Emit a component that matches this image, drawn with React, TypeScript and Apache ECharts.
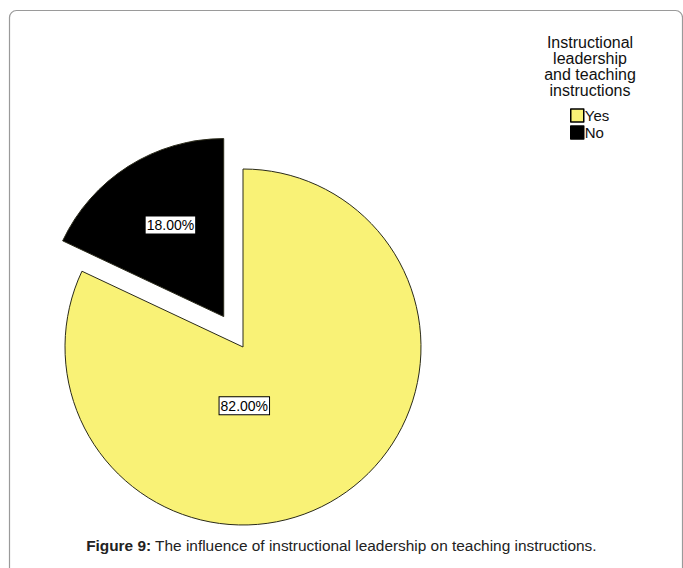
import React, { useEffect, useRef } from "react";
import * as echarts from "echarts";

const categories = ["Yes", "No"];
const values = [82, 18];
const colors = ["#F9F276", "#000000"];
const legendTitle = "Instructional\nleadership\nand teaching\ninstructions";
const captionBold = "Figure 9:";
const captionText = " The influence of instructional leadership on teaching instructions.";

export default function App() {
  const ref = useRef<HTMLDivElement>(null);
  useEffect(() => {
    document.body.style.margin = "0";
    const chart = echarts.init(ref.current!, null, { renderer: "svg" });
    const font = "Arial, 'Liberation Sans', sans-serif";
    chart.setOption({
      animation: false,
      backgroundColor: "#ffffff",
      graphic: [
        {
          type: "rect",
          shape: { x: 9.5, y: 10.5, width: 673, height: 620, r: 7 },
          style: { fill: "none", stroke: "#9a9a9a", lineWidth: 1.2 },
          silent: true,
        },
        {
          type: "text",
          left: "center",
          top: 538,
          style: {
            text: `{b|${captionBold}}{n|${captionText}}`,
            rich: {
              b: { fontFamily: font, fontSize: 15.4, fontWeight: "bold", fill: "#222" },
              n: { fontFamily: font, fontSize: 15.4, fill: "#222" },
            },
          },
        },
      ],
      title: {
        text: legendTitle,
        left: 590,
        top: 34,
        padding: 0,
        textAlign: "center",
        textStyle: {
          fontFamily: font,
          fontSize: 16,
          fontWeight: "normal",
          color: "#111",
          lineHeight: 16,
        },
      },
      legend: {
        orient: "vertical",
        left: 570,
        top: 108,
        padding: 0,
        itemWidth: 13,
        itemHeight: 13,
        itemGap: 2,
        icon: "rect",
        data: categories,
        textStyle: {
          fontFamily: font,
          fontSize: 15,
          color: "#111",
          lineHeight: 13,
          padding: [0, 0, 0, -4],
        },
        itemStyle: { borderColor: "#000", borderWidth: 1.5 },
      },
      series: [
        {
          type: "pie",
          center: [243, 347],
          radius: 178,
          startAngle: 90,
          clockwise: true,
          selectedMode: "single",
          selectedOffset: 36,
          itemStyle: { borderColor: "#2a2a1a", borderWidth: 1 },
          label: {
            show: true,
            position: "inside",
            formatter: (p: any) => p.value.toFixed(2) + "%",
            fontFamily: font,
            fontSize: 14,
            color: "#000",
            backgroundColor: "#fff",
            borderColor: "#000",
            borderWidth: 1,
            padding: [2, 1, 1, 1],
          },
          labelLayout: (p: any) =>
            p.dataIndex === 0 ? { dx: -48, dy: -19 } : { dx: -4, dy: -14 },
          emphasis: { disabled: true },
          data: categories.map((c, i) => ({
            name: c,
            value: values[i],
            selected: i === 1,
            itemStyle: { color: colors[i] },
          })),
        },
      ],
    });
    return () => chart.dispose();
  }, []);
  return <div ref={ref} style={{ width: 683, height: 568 }} />;
}
